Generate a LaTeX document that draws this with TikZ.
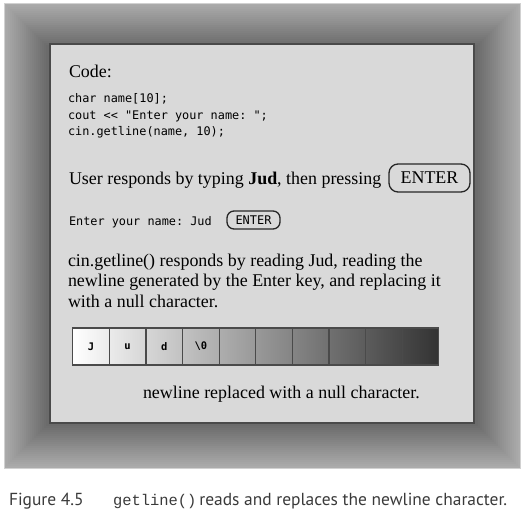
\documentclass[tikz,border=0pt]{standalone}
\usepackage{fontspec}
\setmainfont{Liberation Serif}
\setsansfont{PT Sans}
\setmonofont{DejaVu Sans Mono}
\newfontfamily\capmono{Liberation Mono}
\usepackage{xcolor}
\usepackage{tikz}
\usetikzlibrary{positioning}
\definecolor{panelgray}{HTML}{D9D9D9}
\definecolor{edgegray}{HTML}{4A4A4A}
\definecolor{captiongray}{HTML}{3A3A3A}

\begin{document}
\begin{tikzpicture}[x=1bp, y=-1bp,
                every node/.append style = {inner sep = 0pt, outer sep = 0pt},
                serif/.style = {font = \fontsize{18}{20.5}\selectfont, anchor = base west},
                code/.style = {font = \ttfamily\fontsize{11.9}{17}\selectfont, anchor = base west},
                key/.style = {draw = black!85, line width = 1.3bp},
                cell/.style = {draw = edgegray, line width = 1.2bp, minimum width = 36.6bp, minimum height = 37bp, anchor = north west},
                cellchar/.style = {font = \ttfamily\bfseries\fontsize{10.5}{10.5}\selectfont},
                caption/.style = {font = \sffamily\fontsize{17.5}{17.5}\selectfont, text = captiongray, anchor = base west}]
            \useasboundingbox (0,0) rectangle (530,519);
            % beveled frame
            \foreach \i in {0,...,21} {
                \pgfmathsetmacro\tone{33 + 25*\i/21}
                \fill[black!\tone] ({4+2*\i},{3+2*\i}) rectangle ({520-2*\i},{468-2*\i});
            }
            \draw[black!18, line width = 0.8bp] (4,3) rectangle (520,468);
            \draw[fill = panelgray, draw = edgegray, line width = 2bp] (50,44) rectangle (474,423);
            % texts (base of a multi-line node is its last line)
            \node[serif] (codelabel) at (69,78) {Code:};
            \node[code, align = left] (codelines) at (68,136) {char name[10];\\cout << "Enter your name: ";\\cin.getline(name, 10);};
            \node[serif] (typing) at (69,185) {User responds by typing \textbf{Jud}, then pressing};
            \node[key, rounded corners = 9bp, minimum width = 81bp, minimum height = 28bp,
                  font = \fontsize{18}{18}\selectfont] (bigkey) at (429.5,178) {ENTER};
            \node[code] (prompt) at (69,225) {Enter your name: Jud};
            \node[key, rounded corners = 7bp, minimum width = 53bp, minimum height = 18bp,
                  font = \ttfamily\fontsize{12}{12}\selectfont] (smallkey) at (253.5,220) {ENTER};
            \node[serif, align = left] (reply) at (68,307) {cin.getline() responds by reading Jud, reading the\\newline generated by the Enter key, and replacing it\\with a null character.};
            % array
            \foreach \i in {0,...,9} {
                \pgfmathsetmacro\lft{80*\i/10}
                \pgfmathsetmacro\rgt{80*(\i+1)/10}
                \node[cell, left color = black!\lft, right color = black!\rgt] (c\i) at ({72.7+36.6*\i},328) {};
            }
            \node[cellchar] at (c0) {J};
            \node[cellchar] at (c1) {u};
            \node[cellchar] at (c2) {d};
            \node[cellchar] at (c3) {\textbackslash 0};
            \node[serif] (nullnote) at (143,398) {newline replaced with a null character.};
            % caption
            \node[caption] (fignum) at (9,505) {Figure 4.5};
            \node[caption, font = \capmono\fontsize{15.5}{15.5}\selectfont] (figcode) at (113,505) {getline()};
            \node[caption, xshift = 3bp] (figtext) at (figcode.base east) {reads and replaces the newline character.};
            \end{tikzpicture}
\end{document}
